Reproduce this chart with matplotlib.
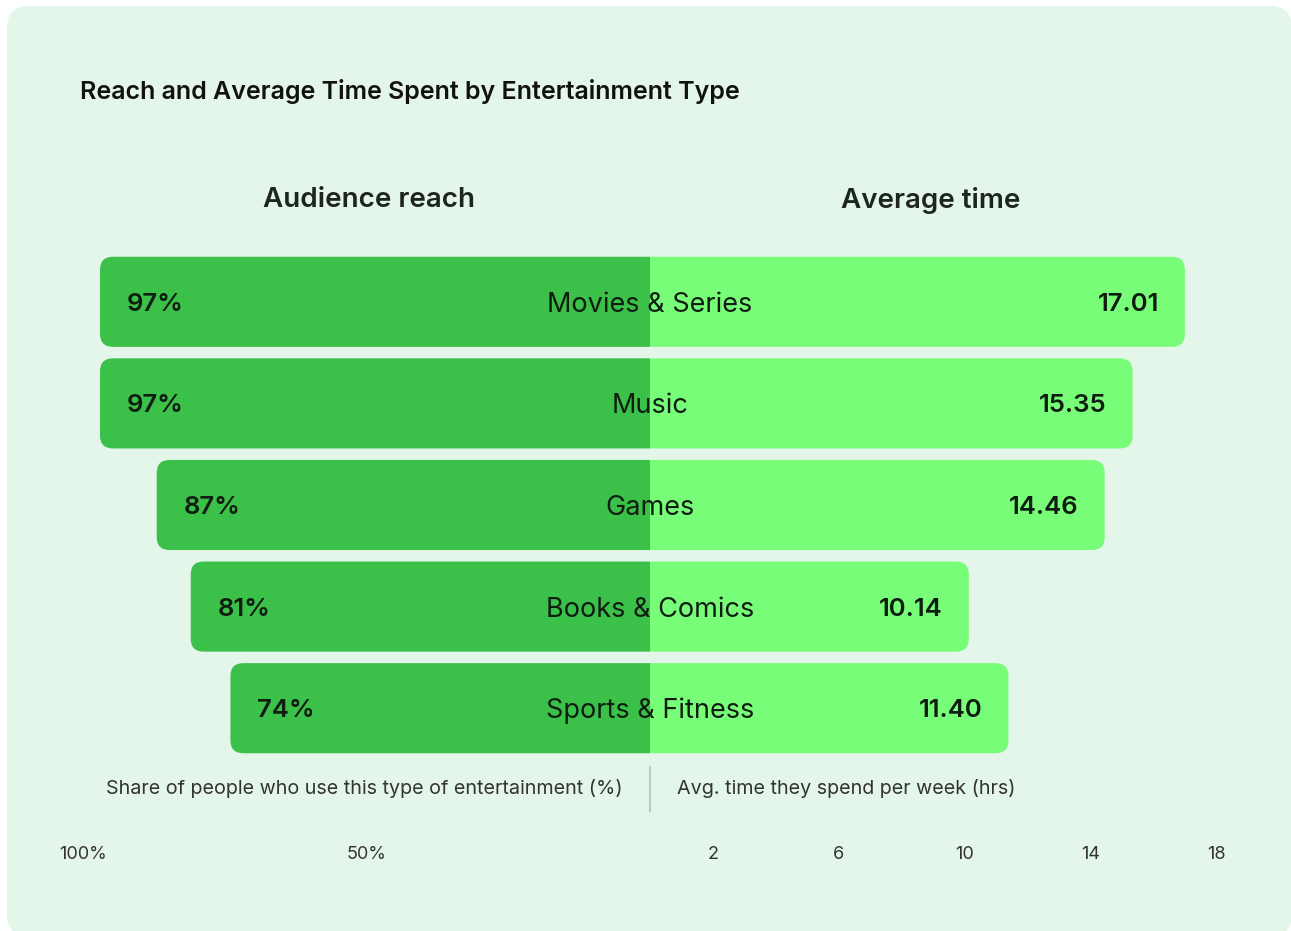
import matplotlib.pyplot as plt
from matplotlib.patches import FancyBboxPatch

categories = ["Movies & Series", "Music", "Games", "Books & Comics", "Sports & Fitness"]
reach_pct = [97, 97, 87, 81, 74]
avg_hours = [17.01, 15.35, 14.46, 10.14, 11.40]
reach_ticks = [100, 50]
reach_tick_labels = ["100%", "50%"]
hour_ticks = [2, 6, 10, 14, 18]

W, H = 1291, 931
DARK = "#3bc14a"
LIGHT = "#78fd78"
CARD = "#e4f5ea"
TXT = "#0f1c10"

plt.rcParams["font.family"] = ["Inter", "DejaVu Sans"]

fig = plt.figure(figsize=(W / 100, H / 100), dpi=100)
fig.patch.set_facecolor("white")


def fx(px):
    return px / W


def fy(py):
    return 1 - py / H


# card background (rounded, slightly cut at right/bottom edges)
card_r = 22
fig.patches.append(FancyBboxPatch((fx(7), fy(936)), fx(1292 - 7), (936 - 6) / H,
                                  boxstyle=f"round,pad=0,rounding_size={card_r / W}",
                                  mutation_aspect=W / H,
                                  transform=fig.transFigure, facecolor=CARD,
                                  edgecolor="none", zorder=-10))

top, bottom = 251, 759
ax_l = fig.add_axes([fx(83), fy(bottom), fx(650 - 83), (bottom - top) / H])
ax_r = fig.add_axes([fx(650), fy(bottom), fx(1216 - 650), (bottom - top) / H])

bar_h = 0.887
n = len(categories)
corner_px = 13
row_px = (bottom - top) / n

for ax, xmax in [(ax_l, 100), (ax_r, 18)]:
    ax.set_facecolor("none")
    ax.set_ylim(n - 0.5, -0.5)
    ax.set_xlim(0, xmax)
    for s in ax.spines.values():
        s.set_visible(False)
    ax.tick_params(length=0, labelsize=13, labelcolor="#333333", pad=62.5)
    ax.set_yticks([])

ax_l.invert_xaxis()
ax_l.set_xticks(reach_ticks)
ax_l.set_xticklabels(reach_tick_labels)
ax_r.set_xticks(hour_ticks)
ax_r.set_xticklabels([str(t) for t in hour_ticks])

for ax, vals, color, px_per_unit in [(ax_l, reach_pct, DARK, (650 - 83) / 100),
                                     (ax_r, avg_hours, LIGHT, (1216 - 650) / 18)]:
    rs = corner_px / px_per_unit
    aspect = px_per_unit / row_px
    for i, v in enumerate(vals):
        # start past zero so the inner rounded end is clipped away by the axes
        ax.add_patch(FancyBboxPatch((-2 * rs, i - bar_h / 2), v + 2 * rs, bar_h,
                                    boxstyle=f"round,pad=0,rounding_size={rs}",
                                    mutation_aspect=aspect,
                                    facecolor=color, edgecolor="none", zorder=2))

for i, v in enumerate(reach_pct):
    ax_l.annotate(f"{v}%", xy=(v, i), xytext=(27 * 0.72, 0), textcoords="offset points",
                  ha="left", va="center_baseline", fontsize=18.5, fontweight="semibold",
                  color=TXT, zorder=5)

for i, v in enumerate(avg_hours):
    ax_r.annotate(f"{v:.2f}", xy=(v, i), xytext=(-26 * 0.72, 0), textcoords="offset points",
                  ha="right", va="center_baseline", fontsize=18.5, fontweight="semibold",
                  color=TXT, zorder=5)
    ax_r.text(0, i, categories[i], ha="center", va="center_baseline", fontsize=19.5,
              color=TXT, zorder=5, clip_on=False)

fig.text(fx(80), fy(91), "Reach and Average Time Spent by Entertainment Type",
         ha="left", va="center", fontsize=18, fontweight="semibold", color="#111111")
fig.text(fx(369), fy(200), "Audience reach", ha="center", va="center",
         fontsize=20, fontweight="semibold", color="#1e2421")
fig.text(fx(931), fy(200), "Average time", ha="center", va="center",
         fontsize=20, fontweight="semibold", color="#1e2421")

fig.text(fx(623), fy(789), "Share of people who use this type of entertainment (%)",
         ha="right", va="center", fontsize=14.2, color="#333333")
fig.text(fx(677), fy(789), "Avg. time they spend per week (hrs)",
         ha="left", va="center", fontsize=14.2, color="#333333")
fig.add_artist(plt.Line2D([fx(650), fx(650)], [fy(767), fy(811)], color="#b5cdbd",
                          linewidth=1.5, transform=fig.transFigure))

fig.savefig("out.png", dpi=100, facecolor=fig.get_facecolor())
